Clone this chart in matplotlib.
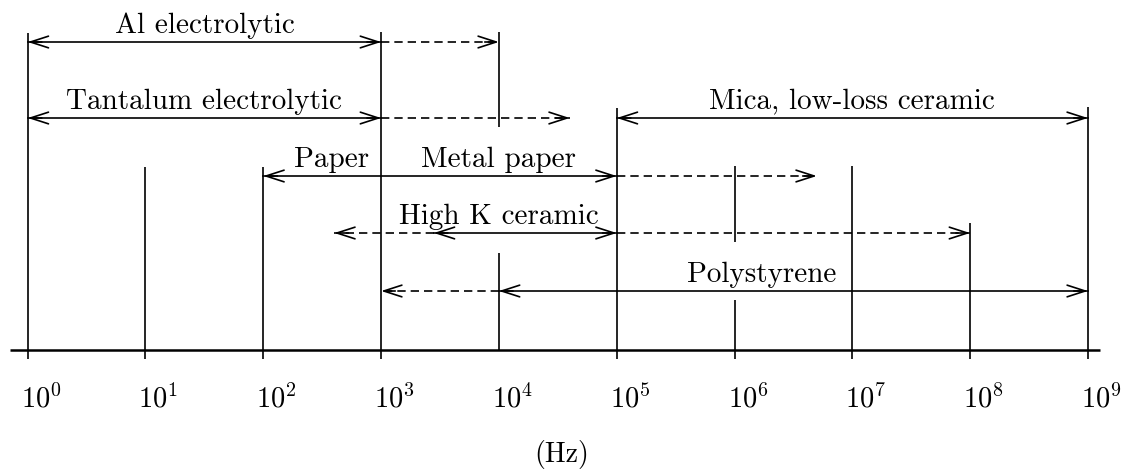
import matplotlib
matplotlib.use("Agg")
import matplotlib.pyplot as plt
from matplotlib.transforms import offset_copy

plt.rcParams["font.family"] = "serif"
plt.rcParams["font.serif"] = ["cmr10"]
plt.rcParams["mathtext.fontset"] = "cm"
plt.rcParams["axes.unicode_minus"] = False

# ---- data: usable frequency ranges (Hz) of capacitor types ----
row_names = ["Al electrolytic", "Tantalum electrolytic", "Mica, low-loss ceramic",
             "Paper", "High K ceramic", "Polystyrene"]
solid_lo = [1e0, 1e0, 1e5, 1e2, 2.8e3, 1e4]
solid_hi = [1e3, 1e3, 1e9, 1e5, 1e5, 1e9]

# dashed extensions: (row index, start, arrow end)
ext_row = [0, 1, 3, 4, 4, 5]
ext_from = [1e3, 1e3, 1e5, 2.8e3, 1e5, 1e4]
ext_to = [1e4, 4e4, 5e6, 4e2, 1e8, 1e3]

# text labels and their centre frequencies
label_text = ["Al electrolytic", "Tantalum electrolytic", "Mica, low-loss ceramic",
              "Paper", "Metal paper", "High K ceramic", "Polystyrene"]
label_freq = [10**1.5, 10**1.5, 1e7, 10**2.58, 1e4, 1e4, 10**6.23]
label_row = [0, 1, 2, 3, 3, 4, 5]

decades = list(range(0, 10))
tick_labels = [rf"$10^{{{k}}}$" for k in decades]

# vertical guide lines: frequency, top, bottom (vertical layout in pixels)
guide_freq = [1e0, 1e1, 1e2, 1e3, 1e4, 1e4, 1e5, 1e6, 1e6, 1e7, 1e8, 1e9]
guide_top = [33, 167, 167, 32, 32, 253, 108, 166, 300, 166, 223, 107]
guide_bot = [359, 359, 359, 359, 127, 350, 359, 242, 359, 359, 359, 359]

# ---- layout ----
W, H = 1124, 470
x0_px, dec_px = 27.7, 117.8          # position of 10^0 and width of one decade
row_y = [42, 118, 118, 176, 233, 291]
axis_y = 350
LW = 1.2

fig = plt.figure(figsize=(W / 100, H / 100), dpi=100)
ax = fig.add_axes([0, 0, 1, 1])
ax.set_xscale("log")
ax.set_xlim(10 ** (-x0_px / dec_px), 10 ** ((W - x0_px) / dec_px))
ax.set_ylim(H, 0)
ax.axis("off")

head_style = "->,head_length=1.3,head_width=0.42"


def head(tip, y, back):
    """Open arrow head at `tip`, pointing away from `back`."""
    ax.annotate("", xy=(tip, y), xytext=(back, y),
                arrowprops=dict(arrowstyle=head_style, lw=LW, color="k",
                                shrinkA=0, shrinkB=0, mutation_scale=10))


# frequency axis
ax.plot([10 ** -0.15, 10 ** 9.1], [axis_y, axis_y], color="k", lw=1.8,
        solid_capstyle="butt")

# guide lines
for f, t, b in zip(guide_freq, guide_top, guide_bot):
    ax.plot([f, f], [t, b], color="k", lw=LW, solid_capstyle="butt")

# solid ranges with arrows at both ends
step = 10 ** 0.12
for i, (lo, hi) in enumerate(zip(solid_lo, solid_hi)):
    y = row_y[i]
    ax.plot([lo, hi], [y, y], color="k", lw=LW)
    head(lo, y, lo * step)
    head(hi, y, hi / step)

# dashed extensions
for r, a, b in zip(ext_row, ext_from, ext_to):
    y = row_y[r]
    ax.plot([a, b], [y, y], color="k", lw=LW, linestyle=(0, (5, 3)))
    head(b, y, b / step if b > a else b * step)

# labels
for s, f, r in zip(label_text, label_freq, label_row):
    ax.text(f, row_y[r] - 9, s, ha="center", va="baseline", fontsize=21)

# decade tick labels
tick_tr = offset_copy(ax.transData, fig=fig, x=-7, y=0, units="dots")
for k, s in zip(decades, tick_labels):
    ax.text(10 ** k, 407, s, ha="left", va="baseline", fontsize=20.5,
            transform=tick_tr)

# unit label, centred under the axis
ax.text(10 ** ((W / 2 - x0_px) / dec_px), 462, "(Hz)", ha="center",
        va="baseline", fontsize=20)

fig.savefig("out.png", dpi=100, facecolor="white")
